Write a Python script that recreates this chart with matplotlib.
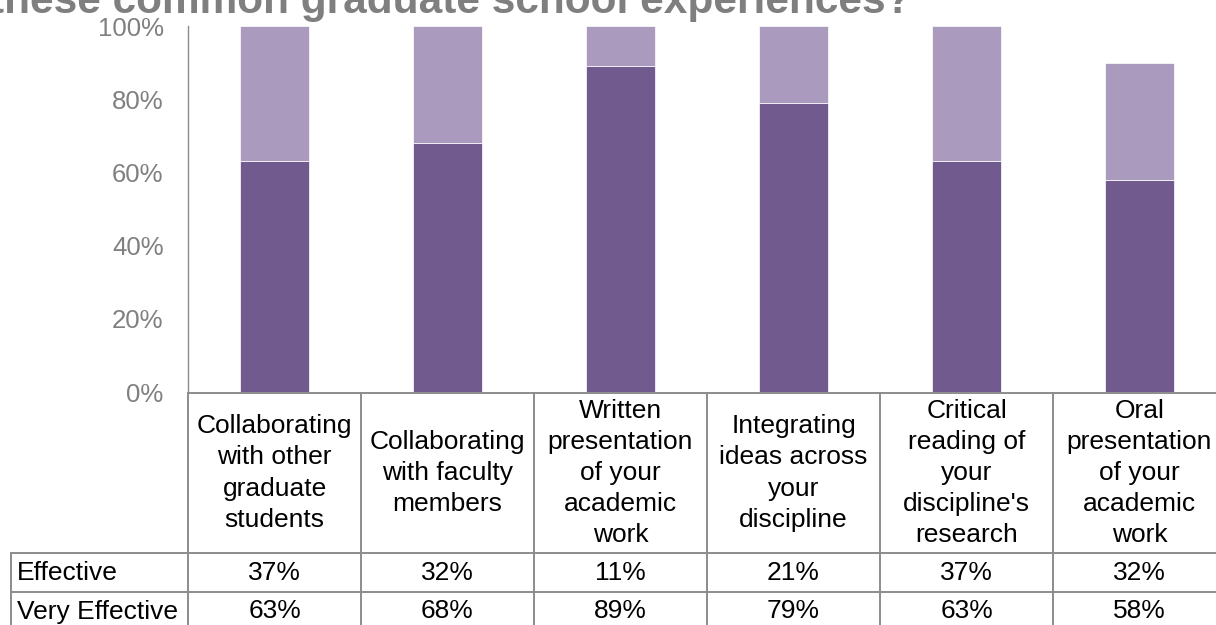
import matplotlib
matplotlib.use("Agg")
import matplotlib.pyplot as plt
from matplotlib.transforms import blended_transform_factory

plt.rcParams["font.family"] = ["Liberation Sans", "DejaVu Sans"]

# data
categories = [
    "Collaborating\nwith other\ngraduate\nstudents",
    "Collaborating\nwith faculty\nmembers",
    "Written\npresentation\nof your\nacademic\nwork",
    "Integrating\nideas across\nyour\ndiscipline",
    "Critical\nreading of\nyour\ndiscipline's\nresearch",
    "Oral\npresentation\nof your\nacademic\nwork",
]
series_names = ["Effective", "Very Effective"]
effective = [37, 32, 11, 21, 37, 32]
very_effective = [63, 68, 89, 79, 63, 58]
yticks = [0, 20, 40, 60, 80, 100]

dark = "#705A8E"
light = "#AA9ABE"
grey = "#808080"
line_col = "#8C8C8C"

W, H = 1216, 625
fig = plt.figure(figsize=(W / 100, H / 100), dpi=100)

# plot area in pixels: x 188..1226, y 26..392
left, right, top, bottom = 188, 1226, 26, 392
ax = fig.add_axes([left / W, 1 - bottom / H, (right - left) / W, (bottom - top) / H])

x = list(range(len(categories)))
ve = [v / 100 for v in very_effective]
ef = [v / 100 for v in effective]
ax.bar(x, ve, width=0.4, color=dark, edgecolor="white", linewidth=0.5)
ax.bar(x, ef, width=0.4, bottom=ve, color=light, edgecolor="white", linewidth=0.5)

ax.set_xlim(-0.5, len(categories) - 0.5)
ax.set_ylim(0, 1)
ax.set_yticks([t / 100 for t in yticks])
ax.set_yticklabels([f"{t}%" for t in yticks])
ax.set_xticks([])
ax.tick_params(axis="y", length=0, pad=17.5, labelsize=18.5, labelcolor=grey)
for s in ["top", "right", "bottom"]:
    ax.spines[s].set_visible(False)
ax.spines["left"].set_color(line_col)
ax.spines["left"].set_linewidth(1.0)

# data table drawn by hand: x follows the bar axis, y in pixels from the top
over = fig.add_axes([0, 0, 1, 1], zorder=3)
over.set_xlim(0, W)
over.set_ylim(H, 0)
over.axis("off")
tr = blended_transform_factory(ax.transData, over.transData)

n = len(categories)
label_left = -0.5 - 177 / 173
y_head, y_r1, y_r2, y_end = 393, 553, 592, 631
lw = 1.4
kw = dict(color=line_col, lw=lw, transform=tr, clip_on=False)

over.plot([-0.5, n - 0.5], [y_head, y_head], **kw)
for yy in [y_r1, y_r2, y_end]:
    over.plot([label_left, n - 0.5], [yy, yy], **kw)
for i in range(n + 1):
    over.plot([i - 0.5, i - 0.5], [y_head, y_end], **kw)
over.plot([label_left, label_left], [y_r1, y_end], **kw)

for i, cat in enumerate(categories):
    over.text(i, (y_head + y_r1) / 2, cat, ha="center", va="center",
              fontsize=19, linespacing=1.37, transform=tr)

rows = [effective, very_effective]
row_mid = [(y_r1 + y_r2) / 2, (y_r2 + y_end) / 2]
for name, vals, ym in zip(series_names, rows, row_mid):
    over.text(label_left + 0.035, ym, name, ha="left", va="center",
              fontsize=19, transform=tr)
    for i, v in enumerate(vals):
        over.text(i, ym, f"{v}%", ha="center", va="center", fontsize=19, transform=tr)

fig.text(911 / W, 1 - 13 / H, "these common graduate school experiences?",
         ha="right", va="baseline", fontsize=30.5, fontweight="bold", color="#7F7F7F")

fig.savefig("out.png", dpi=100)
